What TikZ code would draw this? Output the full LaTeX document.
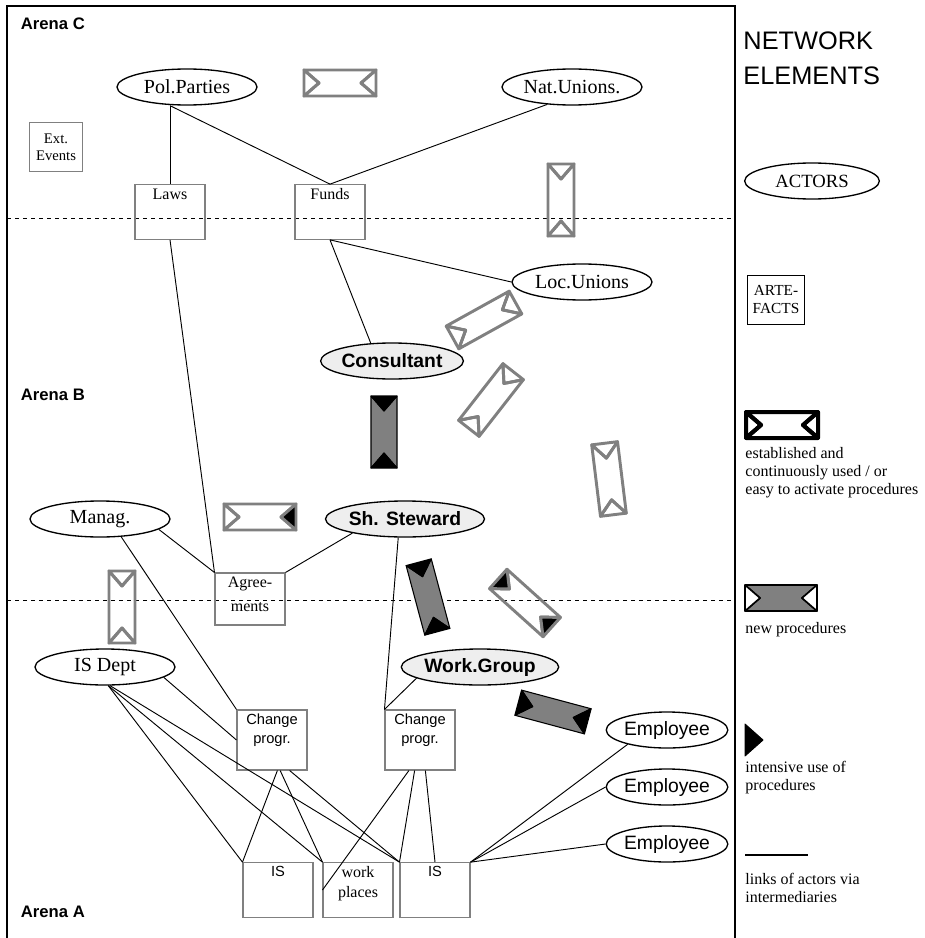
\documentclass[tikz,border=0pt]{standalone}
\usepackage{fontspec}
\setmainfont{Liberation Serif}
\setsansfont{Liberation Sans}
\usetikzlibrary{shapes.geometric}
\definecolor{procgray}{HTML}{808080}
\definecolor{actorfill}{HTML}{EEEEEE}
\newcommand\proced[6]{%
  \begin{scope}[shift={#1},rotate=#2]
    \filldraw[#3,fill=#4] (-36,-13) -- (36,-13) -- (21,0) -- (36,13) -- (-36,13) -- (-21,0) -- cycle;
    \filldraw[#3,fill=#5] (-36,-13) -- (-21,0) -- (-36,13) -- cycle;
    \filldraw[#3,fill=#6] (36,-13) -- (21,0) -- (36,13) -- cycle;
  \end{scope}}
\tikzset{
  actor/.style={ellipse,draw,line width=1pt,minimum width=105pt,minimum height=27pt,inner sep=0pt,
    font=\fontsize{15}{17}\selectfont},
  keyactor/.style={actor,fill=actorfill,font=\sffamily\bfseries\fontsize{14.5}{17}\selectfont},
  employee/.style={actor,minimum width=90pt,font=\sffamily\fontsize{14.5}{17}\selectfont},
  artefact/.style={draw=procgray,line width=0.8pt,minimum width=52.5pt,minimum height=41pt,inner sep=0pt},
  boxtxt/.style={anchor=north,align=center,inner sep=3pt,font=\fontsize{12}{15}\selectfont},
  sansboxtxt/.style={boxtxt,font=\sffamily\fontsize{11}{14.5}\selectfont},
  arena/.style={anchor=west,font=\sffamily\bfseries\fontsize{12.5}{15}\selectfont},
  legendtxt/.style={anchor=north west,align=left,inner sep=0pt,font=\fontsize{12}{13.5}\selectfont},
  grayproc/.style={draw=procgray,line width=2.2pt,line join=round},
  blackproc/.style={draw=black,line width=0.8pt,line join=round}
}
\begin{document}
\begin{tikzpicture}[x=0.75pt,y=-0.75pt,line width=0.7pt]
\useasboundingbox (0,0) rectangle (924,938);

% frame and arenas
\draw[line width=1.2pt] (7,938) -- (7,6) -- (735,6) -- (735,938);
\draw[dashed] (7,218) -- (735,218);
\draw[dashed] (7,600) -- (735,600);
\node[arena] (arenaC) at (16,24) {Arena C};
\node[arena] (arenaB) at (16,395) {Arena B};
\node[arena] (arenaA) at (16,912) {Arena A};

% arena C
\node[actor] (pol) at (187,87) {Pol.Parties};
\node[actor] (natu) at (572,87) {Nat.Unions.};
\node[draw=procgray,line width=0.8pt,minimum width=40pt,minimum height=37pt,inner sep=0pt,align=center,
  font=\fontsize{11}{13}\selectfont] (ext) at (56,147) {Ext.\\Events};
\node[artefact,label={[boxtxt]north:Laws}] (laws) at (170,212) {};
\node[artefact,label={[boxtxt]north:Funds}] (funds) at (330,212) {};

% arena B
\node[actor] (locu) at (582,282) {Loc.Unions};
\node[keyactor] (cons) at (392,361) {Consultant};
\node[actor] (manag) at (100,519) {Manag.};
\node[keyactor] (steward) at (405,519) {Sh. Steward};
\node[artefact,minimum height=39pt,label={[boxtxt,font=\fontsize{12}{18}\selectfont]north:Agree-\\ments}] (agree) at (250,599) {};

% arena A
\node[actor] (isdept) at (105,667) {IS Dept};
\node[keyactor] (wg) at (480,667) {Work.Group};
\node[artefact,minimum height=45pt,label={[sansboxtxt]north:Change\\progr.}] (chl) at (272,740) {};
\node[artefact,minimum height=45pt,label={[sansboxtxt]north:Change\\progr.}] (chr) at (420,740) {};
\node[employee] (emp1) at (667,730) {Employee};
\node[employee] (emp2) at (667,787) {Employee};
\node[employee] (emp3) at (667,844) {Employee};
\node[artefact,label={[sansboxtxt]north:IS}] (isl) at (278,890) {};
\node[artefact,label={[boxtxt]north:work\\places}] (wp) at (358,890) {};
\node[artefact,label={[sansboxtxt]north:IS}] (isr) at (435,890) {};

% links
\draw (pol.south -| laws) -- (laws.north);
\draw (pol.south -| laws) -- (funds.north);
\draw (natu.-145) -- (funds.north);
\draw (laws.south) -- (agree.north west);
\draw (funds.south) -- (locu.west);
\draw (funds.south) -- (cons.140);
\draw (manag.-10) -- (agree.north west);
\draw (manag.-40) -- (chl.north west);
\draw (steward.-165) -- (agree.north east);
\draw (steward.-110) -- (chr.north west);
\draw (wg.190) -- (chr.north west);
\draw (isdept.-10) -- (chl.west);
\draw (isdept.-80) -- (isl.north west);
\draw (isdept.-80) -- (wp.north west);
\draw (isdept.-75) -- (isr.north west);
\draw (chl.-80) -- (isl.north west);
\draw (chl.-75) -- (wp.north west);
\draw (chl.-60) -- (isr.north west);
\draw (chr.-110) -- (wp.west);
\draw (chr.-100) -- (isr.north west);
\draw (chr.-80) -- (isr.north);
\draw (emp1.200) -- (isr.north east);
\draw (emp2.west) -- (isr.north east);
\draw (emp3.west) -- (isr.north east);

% procedures
\proced{(340,83)}{0}{grayproc}{none}{none}{none}
\proced{(561,200)}{90}{grayproc}{none}{none}{none}
\proced{(484,320)}{29}{grayproc}{none}{none}{none}
\proced{(491,400)}{52}{grayproc}{none}{none}{none}
\proced{(384,432)}{90}{blackproc}{procgray}{black}{black}
\proced{(609,479)}{97}{grayproc}{none}{none}{none}
\proced{(260,517)}{0}{grayproc}{none}{none}{black}
\proced{(122,607)}{90}{grayproc}{none}{none}{none}
\proced{(428,597)}{105}{blackproc}{procgray}{black}{black}
\proced{(525,603)}{-42}{grayproc}{none}{black}{black}
\proced{(553,712)}{-15}{blackproc}{procgray}{black}{black}

% network elements
\node[anchor=west,align=left,inner sep=0pt,font=\sffamily\fontsize{19}{26}\selectfont] (title) at (743,58) {NETWORK\\ELEMENTS};
\node[actor,minimum width=101pt,font=\fontsize{14}{16}\selectfont] (legactor) at (812,181) {ACTORS};
\node[draw,minimum width=43pt,minimum height=37pt,inner sep=0pt,align=center,
  font=\fontsize{11.5}{13.5}\selectfont] (legart) at (776,300) {ARTE-\\FACTS};
\proced{(782,425)}{0}{draw=black,line width=3pt,line join=round}{none}{none}{none}
\node[legendtxt] (legest) at (745,447) {established and\\continuously used / or\\easy to activate procedures};
\proced{(781,598)}{0}{draw=black,line width=1.2pt,line join=round}{procgray}{white}{white}
\node[legendtxt] (legnew) at (745,622) {new procedures};
\filldraw[line join=round] (745,724) -- (763,740) -- (745,756) -- cycle;
\node[legendtxt] (legint) at (745,761) {intensive use of\\procedures};
\coordinate (linka) at (745,855);
\coordinate (linkb) at (808,855);
\draw[line width=1pt] (linka) -- (linkb);
\node[legendtxt] (leglink) at (745,873) {links of actors via\\intermediaries};
\end{tikzpicture}
\end{document}
